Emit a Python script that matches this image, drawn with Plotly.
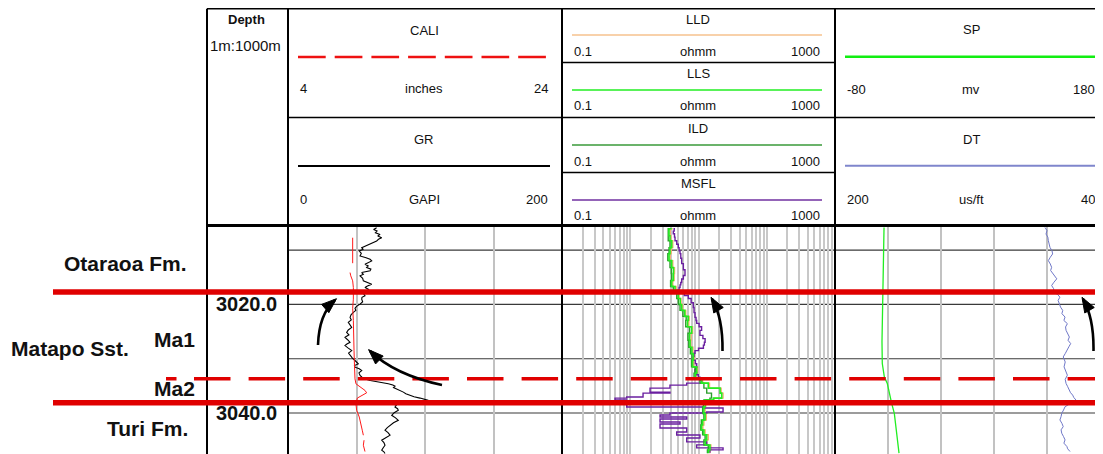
import plotly.graph_objects as go

# page body has an 8px default margin; the figure fills the rest of the 1103x454 window
OX, OY = 8, 8
SCREEN_W, SCREEN_H = 1103, 454
FW, FH = SCREEN_W - OX, SCREEN_H - OY

# ---------------- data ----------------
gr_depth = [3005.87, 3006.20, 3006.48, 3006.80, 3007.10, 3007.40, 3007.71, 3008.00, 3008.32, 3008.60,
            3008.94, 3009.20, 3009.54, 3009.85, 3010.15, 3010.60, 3011.06, 3011.40, 3011.69, 3011.98,
            3012.30, 3012.61, 3012.90, 3013.21, 3013.50, 3013.82, 3014.13, 3014.45, 3014.73, 3015.20,
            3015.65, 3016.00, 3016.28, 3016.60, 3016.88, 3017.20, 3017.49, 3017.95, 3018.40, 3018.70,
            3019.03, 3019.50, 3019.94, 3020.35, 3020.73, 3021.10, 3021.47, 3021.90, 3022.39, 3022.85,
            3023.30, 3023.75, 3024.22, 3024.70, 3025.14, 3025.60, 3026.06, 3026.50, 3026.97, 3027.30,
            3027.58, 3028.05, 3028.50, 3028.95, 3029.41, 3029.90, 3030.33, 3030.65, 3030.95, 3031.25,
            3031.56, 3031.85, 3032.17, 3032.60, 3033.08, 3033.40, 3033.71, 3034.00, 3034.18, 3034.40,
            3034.62, 3034.85, 3035.05, 3035.30, 3035.54, 3035.85, 3036.15, 3036.45, 3036.75, 3037.00,
            3037.25, 3037.45, 3037.67, 3037.98, 3038.29, 3038.60, 3038.90, 3039.20, 3039.50, 3039.95,
            3040.42, 3040.90, 3041.34, 3041.80, 3042.26, 3042.70, 3043.17, 3043.60, 3044.09, 3044.55,
            3045.01, 3045.45, 3045.93, 3046.40, 3046.84, 3047.15, 3047.47]
gr_api = [64.7, 62.5, 65.0, 63.8, 67.2, 65.5, 68.4, 66.0, 64.7, 62.0,
          59.9, 56.5, 53.8, 54.8, 52.0, 53.5, 52.6, 57.0, 59.9, 61.1,
          58.0, 56.2, 58.5, 57.4, 60.5, 59.9, 53.8, 55.0, 52.6, 54.5,
          55.0, 58.0, 61.1, 58.0, 56.2, 58.8, 57.4, 55.0, 56.2, 54.0,
          53.8, 54.5, 52.6, 50.0, 48.9, 49.5, 47.7, 46.0, 45.3, 46.2,
          44.0, 45.0, 46.5, 44.0, 42.8, 44.5, 41.6, 43.5, 45.3, 43.0,
          41.6, 44.0, 46.5, 44.2, 45.3, 47.0, 48.9, 50.5, 51.3, 48.5,
          48.9, 52.0, 53.8, 51.8, 52.6, 54.0, 56.2, 60.0, 64.7, 69.0,
          73.2, 76.5, 78.1, 77.0, 79.3, 82.5, 84.2, 86.0, 89.1, 92.0,
          96.4, 99.0, 102.4, 92.7, 76.9, 79.0, 78.1, 80.0, 80.5, 77.5,
          75.7, 78.5, 80.5, 77.0, 74.5, 72.5, 70.8, 73.0, 74.5, 71.0,
          68.4, 70.0, 70.8, 69.5, 68.4, 70.0, 70.8]

cali_depth = [3007.71, 3012.40, None, 3014.13, 3014.73, 3015.65, 3016.88, 3019.03, 3020.73, 3022.94,
              3025.69, 3028.44, 3030.28, 3032.10, 3033.71, 3034.62, 3035.23, 3035.84, 3036.28, 3036.75,
              3037.25, 3038.29, 3039.50, 3040.73, 3041.95, 3043.17, 3044.09, None, 3045.01, 3045.93,
              3047.10]
cali_in = [8.72, 8.72, None, 8.53, 8.58, 8.72, 8.77, 8.77, 8.72, 8.77,
           8.77, 8.82, 8.84, 8.84, 8.89, 8.96, 9.26, 9.62, 9.74, 9.38,
           9.06, 8.96, 9.01, 9.20, 9.33, 9.42, 9.50, None, 9.55, 9.50,
           9.62]

res_depth = [3006.06, 3007.34, 3008.26, 3009.54, 3010.64, 3011.93, 3013.21, 3014.31, 3015.60, 3016.70,
             3017.43, 3018.90, 3020.00, 3021.10, 3022.20, 3022.94, 3024.10, 3025.32, 3026.60, 3027.89,
             3029.10, 3030.28, 3031.50, 3032.66, 3033.60, 3034.50, 3035.41, 3036.33, 3037.25, 3037.61,
             3038.35, 3038.90, 3040.10, 3041.28, 3042.20, 3043.12, 3044.00, 3044.95, 3045.90, 3046.79,
             3047.40]
lld_ohmm = [4.20, 3.85, 3.95, 4.20, 4.00, 3.85, 4.20, 4.45, 4.40, 4.20,
            4.70, 5.20, 5.55, 5.85, 6.50, 7.30, 7.20, 8.20, 7.80, 7.70,
            8.30, 8.70, 8.50, 9.70, 9.30, 11.5, 14.5, 21.5, 22.9, 17.0,
            13.0, 12.8, 12.5, 13.0, 12.0, 11.6, 12.5, 13.9, 13.2, 15.2,
            14.7]
lls_ohmm = [4.05, 3.70, 3.82, 4.05, 3.82, 3.70, 4.05, 4.30, 4.27, 4.05,
            4.53, 5.06, 5.40, 5.67, 6.30, 7.09, 6.90, 7.95, 7.40, 7.51,
            8.00, 8.39, 8.20, 9.41, 9.00, 11.1, 13.9, 20.7, 21.9, 16.5,
            12.5, 12.5, 12.0, 12.5, 11.5, 11.1, 12.0, 13.2, 12.6, 14.7,
            14.0]
ild_ohmm = [3.82, 3.60, 3.60, 3.82, 3.70, 3.55, 3.82, 4.00, 4.05, 3.90,
            4.27, 4.80, 5.06, 5.36, 5.90, 6.60, 6.50, 7.40, 7.00, 7.20,
            7.60, 8.00, 7.90, 8.90, 8.60, 10.5, 12.0, 13.2, 15.5, 14.7,
            12.0, 11.8, 11.5, 12.0, 11.0, 10.8, 11.5, 12.5, 12.0, 13.9,
            13.5]

msfl_depth = [3006.06, 3006.50, 3006.97, 3007.60, 3008.26, 3008.90, 3009.54, 3010.10, 3010.64, 3011.50,
              3012.48, 3013.60, 3014.68, 3015.30, 3015.96, 3016.40, 3016.88, 3017.30, 3017.80, 3018.35,
              3018.90, 3019.70, 3020.55, 3021.50, 3022.39, 3022.95, 3023.49, 3024.10, 3024.77, 3025.69,
              3026.30, 3026.97, 3027.50, 3028.07, 3028.50, 3028.99, 3029.60, 3030.28, 3030.90, 3031.56,
              3032.00, 3032.48, 3032.95, 3033.39, 3034.00, 3034.50, 3034.86, 3035.41, 3036.15, 3036.33,
              3037.06, 3037.25, 3037.61, 3037.98, 3038.17, 3038.90, 3039.08, 3039.82, 3040.00, 3040.37,
              3040.73, 3041.10, 3041.65, 3042.02, 3042.75, 3043.49, 3044.04, 3044.59, 3045.32, 3045.87,
              3046.42, 3046.79, 3047.34]
msfl_ohmm = [4.53, 4.40, 4.27, 4.45, 4.53, 4.80, 5.06, 5.20, 5.36, 5.50,
             5.67, 6.00, 6.34, 6.00, 5.67, 5.50, 5.36, 5.20, 5.06, 6.20,
             7.09, 7.80, 8.39, 8.60, 8.89, 9.20, 9.41, 10.2, 11.1, 10.5,
             11.6, 12.5, 12.2, 11.8, 10.0, 8.89, 8.60, 8.39, 9.00, 9.41,
             9.10, 8.89, 9.40, 9.93, 10.5, 11.1, 6.72, 3.82, 1.95, 3.82,
             1.54, 0.887, 0.598, 0.887, 3.82, 0.887, 11.8, 22.9, 13.2, 3.82,
             2.73, 6.72, 2.73, 5.36, 2.73, 6.72, 4.79, 10.5, 6.72, 13.2,
             9.41, 22.9, 14.7]

sp_depth = [3005.82, 3010.70, 3014.99, 3016.83, 3019.50, 3022.94, 3026.90, 3030.89, 3033.34, 3034.55,
            3036.39, 3038.22, 3040.06, 3041.90, 3043.73, 3044.64, 3047.39]
sp_mv = [-31.9, -32.3, -32.6, -33.2, -33.6, -33.9, -33.9, -33.6, -31.6, -28.7,
         -26.7, -24.4, -21.8, -20.6, -19.5, -18.5, -17.2]

dt_depth = [3005.82, 3006.40, 3007.03, 3007.60, 3008.26, 3008.90, 3009.49, 3010.10, 3010.70, 3011.30,
            3011.93, 3012.55, 3013.16, 3013.75, 3014.37, 3014.80, 3015.28, 3015.90, 3016.51, 3017.10,
            3017.74, 3018.20, 3018.66, 3019.25, 3019.87, 3020.50, 3021.10, 3021.70, 3022.33, 3022.95,
            3023.54, 3024.15, 3024.77, 3025.40, 3026.00, 3026.60, 3027.21, 3027.80, 3028.44, 3029.05,
            3029.67, 3030.60, 3031.50, 3032.25, 3033.03, 3033.80, 3034.55, 3035.15, 3035.78, 3036.25,
            3036.70, 3037.15, 3037.61, 3038.20, 3038.84, 3039.45, 3040.06, 3040.65, 3041.28, 3041.90,
            3042.51, 3043.10, 3043.73, 3044.35, 3044.95, 3045.55, 3046.17, 3046.60, 3047.09]
dt_usft = [73.2, 72.0, 72.6, 71.5, 71.2, 70.6, 70.2, 69.0, 68.6, 70.0,
           71.2, 70.0, 69.2, 69.8, 68.2, 67.0, 66.1, 67.8, 69.2, 68.0,
           67.8, 65.5, 64.2, 65.3, 64.6, 63.8, 62.5, 63.0, 61.1, 61.8,
           59.7, 60.8, 60.5, 59.2, 58.5, 59.3, 57.7, 58.8, 59.7, 61.0,
           62.2, 61.0, 61.7, 60.5, 59.7, 61.0, 60.5, 59.5, 58.5, 57.8,
           56.5, 55.8, 54.5, 58.0, 61.1, 62.0, 63.1, 63.5, 64.2, 63.0,
           62.2, 63.5, 63.1, 62.0, 61.1, 61.8, 60.0, 59.5, 58.1]

depth_ticks = [3020.0, 3040.0]
depth_grid = [3010, 3020, 3030, 3040]
tops_depth = [3017.7, 3033.7, 3038.1]
tops_dashed = [False, True, False]
zone_labels = ["Otaraoa Fm.", "Matapo Sst.", "Ma1", "Ma2", "Turi Fm."]
zone_depths = [3012.45, 3028.1, 3026.45, 3035.45, 3042.8]

# ---------------- geometry helpers (layout only, screen pixels) ----------------
def px(x):
    return (x - OX) / FW

def py(y):
    return 1 - (y - OY) / FH

X_DEP0, X_T1, X_T2, X_T3, X_END = 207, 288, 562, 835, 1103
Y_TOP, Y_HDR = 8.8, 226
T3_PIX = 265.0  # nominal width of track 3 scale
sp_max = -80 + (X_END - X_T3) * 260 / T3_PIX
dt_min = 200 - (X_END - X_T3) * 160 / T3_PIX

fig = go.Figure()

common = dict(mode="lines", hoverinfo="skip", yaxis="y")
fig.add_trace(go.Scatter(x=gr_api, y=gr_depth, xaxis="x", line=dict(color="black", width=1.1), **common))
fig.add_trace(go.Scatter(x=cali_in, y=cali_depth, xaxis="x2", line=dict(color="#ff1a1a", width=1),
                         connectgaps=False, **common))
fig.add_trace(go.Scatter(x=lld_ohmm, y=res_depth, xaxis="x3", line=dict(color="#f4b070", width=1.4, shape="hv"), **common))
fig.add_trace(go.Scatter(x=msfl_ohmm, y=msfl_depth, xaxis="x3", line=dict(color="#6a1fa0", width=1.4, shape="hv"), **common))
fig.add_trace(go.Scatter(x=ild_ohmm, y=res_depth, xaxis="x3", line=dict(color="#2e9e2e", width=1.4, shape="hv"), **common))
fig.add_trace(go.Scatter(x=lls_ohmm, y=res_depth, xaxis="x3", line=dict(color="#22ee22", width=1.6, shape="hv"), **common))
fig.add_trace(go.Scatter(x=sp_mv, y=sp_depth, xaxis="x4", line=dict(color="#22ee22", width=1.3), **common))
fig.add_trace(go.Scatter(x=dt_usft, y=dt_depth, xaxis="x5", line=dict(color="#7078c8", width=1), **common))

log_grid = [m * 10 ** e for e in (-1, 0, 1, 2) for m in range(1, 10)][1:]

noax = dict(showticklabels=False, ticks="", zeroline=False, showline=False)
fig.update_layout(
    width=FW, height=FH, margin=dict(l=0, r=0, t=0, b=0),
    paper_bgcolor="white", plot_bgcolor="white", showlegend=False,
    yaxis=dict(domain=[0, py(Y_HDR)], range=[3047.55, 3005.55], showgrid=False, anchor="x", **noax),
    xaxis=dict(domain=[px(X_T1), px(X_T2)], range=[0, 200], tickvals=[50, 100, 150],
               showgrid=True, gridcolor="#c2c2c2", gridwidth=2, anchor="y", **noax),
    xaxis2=dict(overlaying="x", range=[4, 24], showgrid=False, anchor="y", **noax),
    xaxis3=dict(domain=[px(X_T2), px(X_T3)], type="log", range=[-1, 3], tickvals=log_grid,
                showgrid=True, gridcolor="#c8c8c8", gridwidth=1.5, anchor="y", **noax),
    xaxis4=dict(domain=[px(X_T3), 1], range=[-80, sp_max], tickvals=[-28, 24, 76, 128, 180],
                showgrid=True, gridcolor="#c2c2c2", gridwidth=2, anchor="y", **noax),
    xaxis5=dict(overlaying="x4", range=[200, dt_min], showgrid=False, anchor="y", **noax),
)

shapes = []

def pline(x0, y0, x1, y1, color="black", width=1.5, dash=None, layer="above"):
    d = dict(type="line", xref="paper", yref="paper", x0=px(x0), y0=py(y0), x1=px(x1), y1=py(y1),
             line=dict(color=color, width=width), layer=layer)
    if dash:
        d["line"]["dash"] = dash
    shapes.append(d)

# horizontal depth grid lines
for d in depth_grid:
    shapes.append(dict(type="line", xref="paper", yref="y", x0=px(X_T1), x1=1, y0=d, y1=d,
                       line=dict(color="#3a3a3a", width=1.2), layer="between"))

# header frame
pline(X_DEP0, Y_TOP, X_END, Y_TOP, width=1.5)
pline(X_DEP0, Y_HDR - 0.5, X_END, Y_HDR - 0.5, width=3)
for xv in (X_DEP0, X_T1, X_T2, X_T3):
    pline(xv, Y_TOP, xv, SCREEN_H + 2, width=2)
pline(X_T1, 117.5, X_T2, 117.5)
pline(X_T3, 117.5, X_END, 117.5)
for yv in (62.5, 117.5, 172.5):
    pline(X_T2, yv, X_T3, yv)

# header legend lines
pline(298, 57, 550, 57, color="#ee1111", width=2.5, dash="27.7px,9px")
pline(298, 166, 550, 166, color="black", width=2)
for yv, col in ((35, "#f6c28e"), (90, "#22ee22"), (145, "#3a9a3a"), (200, "#7030a0")):
    pline(572, yv, 822, yv, color=col, width=1.6)
pline(845, 56.7, 1097, 56.7, color="#11ee11", width=2.5)
pline(845, 165.7, 1097, 165.7, color="#7f86cc", width=2)

# formation tops
red = "#e00000"
dash_pattern = "10.5px,17.5px," + ",".join(["36.5px,18.1px"] * 18)
for d, dashed in zip(tops_depth, tops_dashed):
    if dashed:
        shapes.append(dict(type="line", xref="paper", yref="y", x0=px(166), x1=1, y0=d, y1=d,
                           line=dict(color=red, width=3.6, dash=dash_pattern), layer="above"))
    else:
        shapes.append(dict(type="line", xref="paper", yref="y", x0=px(53), x1=1, y0=d, y1=d,
                           line=dict(color=red, width=5.5), layer="above"))

# curved arrows (pixel geometry of annotations)
def arrow(p0, c, tip, L=13, w=5.5):
    path = f"M {px(p0[0])},{py(p0[1])} Q {px(c[0])},{py(c[1])} {px(tip[0])},{py(tip[1])}"
    shapes.append(dict(type="path", xref="paper", yref="paper", path=path,
                       line=dict(color="black", width=2.6), layer="above"))
    dx, dy = tip[0] - c[0], tip[1] - c[1]
    n = (dx * dx + dy * dy) ** 0.5
    ux, uy = dx / n, dy / n
    bx, by = tip[0] - ux * L, tip[1] - uy * L
    qx, qy = -uy * w, ux * w
    pts = [(tip[0] + ux * 2, tip[1] + uy * 2), (bx + qx, by + qy), (bx - qx, by - qy)]
    hp = "M " + " L ".join(f"{px(a)},{py(b)}" for a, b in pts) + " Z"
    shapes.append(dict(type="path", xref="paper", yref="paper", path=hp,
                       line=dict(color="black", width=1), fillcolor="black", layer="above"))

arrow((318, 345), (319, 314), (335, 300))
arrow((442, 385), (395, 375), (370, 351))
arrow((722.5, 351), (723, 318), (712, 299))
arrow((1093.5, 351), (1094, 318), (1083, 299))

fig.update_layout(shapes=shapes)

# ---------------- text ----------------
ann = []
HF = "Liberation Sans, Arial, sans-serif"

def ptext(t, x, y, anchor="center", size=13, color="#111"):
    ann.append(dict(text=t, x=px(x), y=py(y), xref="paper", yref="paper", xanchor=anchor,
                    yanchor="middle", showarrow=False, font=dict(family=HF, size=size, color=color)))

ptext("<b>Depth</b>", 246.5, 20, size=13)
ptext("1m:1000m", 245.5, 45, size=15)
ptext("CALI", 424, 30)
ptext("4", 298, 89, "left"); ptext("inches", 424, 89); ptext("24", 550, 89, "right")
ptext("GR", 424, 139)
ptext("0", 298, 199, "left"); ptext("GAPI", 424, 199); ptext("200", 550, 199, "right")
for title, ty, ly in (("LLD", 19.3, 51.7), ("LLS", 74, 106), ("ILD", 128.5, 161), ("MSFL", 183.5, 215.5)):
    ptext(title, 698, ty)
    ptext("0.1", 572, ly, "left"); ptext("ohmm", 698, ly); ptext("1000", 822, ly, "right")
ptext("SP", 971, 29.3)
ptext("-80", 845, 89.3, "left"); ptext("mv", 971, 89.3); ptext("180", 1097, 89.3, "right")
ptext("DT", 971, 139.3)
ptext("200", 845, 199, "left"); ptext("us/ft", 971, 199); ptext("40", 1097, 199, "right")

BF = "Liberation Sans, Arial, sans-serif"
for dv in depth_ticks:
    ann.append(dict(text=f"<b>{dv:.1f}</b>", x=px(279), y=dv, xref="paper", yref="y", xanchor="right",
                    yanchor="middle", showarrow=False, font=dict(family=BF, size=20, color="#111")))

label_x = {"Otaraoa Fm.": (189, "right"), "Matapo Sst.": (9, "left"), "Ma1": (197, "right"),
           "Ma2": (197, "right"), "Turi Fm.": (190, "right")}
for name, dv in zip(zone_labels, zone_depths):
    xx, anc = label_x[name]
    ann.append(dict(text=f"<b>{name}</b>", x=px(xx), y=dv, xref="paper", yref="y", xanchor=anc,
                    yanchor="middle", showarrow=False, font=dict(family=BF, size=21, color="#111")))

fig.update_layout(annotations=ann)
fig.write_html("out.html")
